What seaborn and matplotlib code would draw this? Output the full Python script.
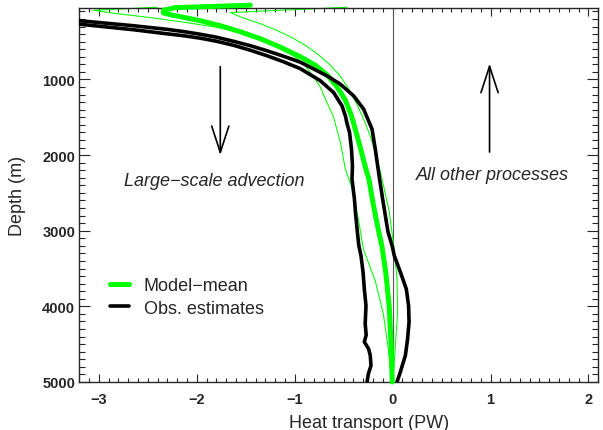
import matplotlib
matplotlib.use('Agg')
import matplotlib.pyplot as plt
from matplotlib.ticker import MultipleLocator
import seaborn as sns
import pandas as pd

# Heat transport (PW) against depth (m)
model_mean_x = [-1.453, -2.22, -2.34, -2.342, -2.270, -2.168, -1.964, -1.760, -1.556, -1.351,
                -1.147, -0.943, -0.790, -0.667, -0.565, -0.483, -0.422, -0.381, -0.33, -0.28,
                -0.24, -0.205, -0.16, -0.11, -0.07, -0.035, -0.017, -0.004]
model_mean_depth = [18, 50, 85, 118, 144, 170, 223, 289, 369, 461,
                    573, 699, 811, 943, 1102, 1273, 1472, 1657, 1900, 2150,
                    2330, 2600, 2900, 3200, 3550, 4000, 4450, 5000]

model_lo_x = [-2.4, -3.054, -2.853, -2.506, -2.168, -1.831, -1.556, -1.351, -1.147, -0.994,
              -0.892, -0.810, -0.738, -0.687, -0.606, -0.534, -0.483, -0.411, -0.350, -0.299,
              -0.177, -0.095, -0.044, -0.010]
model_lo_depth = [45, 85, 124, 177, 236, 303, 375, 468, 587, 705,
                  824, 956, 1102, 1260, 1485, 1828, 2185, 2449, 2845, 3241,
                  3664, 4100, 4562, 4999]

model_hi_x = [-0.463, -1.655, -1.594, -1.503, -1.351, -1.198, -1.045, -0.892, -0.759, -0.636,
              -0.534, -0.453, -0.381, -0.309, -0.228, -0.156, -0.085, -0.034, 0.012, 0.045,
              0.051, 0.028, 0.004]
model_hi_depth = [45, 115, 151, 197, 263, 342, 435, 547, 672, 811,
                  956, 1115, 1287, 1485, 1749, 2053, 2449, 2753, 3202, 3638,
                  4074, 4524, 4999]

obs_a_x = [-3.60, -3.20, -2.649, -2.312, -2.138, -1.965, -1.801, -1.628, -1.454, -1.284,
           -1.116, -0.943, -0.670, -0.534, -0.398, -0.296, -0.21, -0.177, -0.153, -0.133,
           -0.102, -0.047, -0.005, 0.017, 0.079, 0.140, 0.163, 0.168, 0.153, 0.130,
           0.079, 0.045]
obs_a_depth = [164, 223, 289, 336, 366, 402, 441, 494, 553, 620,
               692, 771, 952, 1062, 1217, 1392, 1657, 1922, 2141, 2317,
               2581, 3017, 3198, 3330, 3546, 3771, 3991, 4206, 4431, 4651,
               4867, 5000]

obs_b_x = [-3.60, -3.20, -2.649, -2.312, -2.138, -1.965, -1.801, -1.628, -1.454, -1.284,
           -1.116, -0.943, -0.739, -0.603, -0.517, -0.483, -0.466, -0.44, -0.42, -0.41,
           -0.415, -0.39, -0.38, -0.36, -0.345, -0.323, -0.302, -0.289, -0.272, -0.28,
           -0.27, -0.289, -0.245, -0.228, -0.221, -0.248, -0.261]
obs_b_depth = [210, 269, 342, 395, 421, 454, 494, 547, 613, 686,
               765, 857, 1016, 1172, 1349, 1480, 1580, 1700, 1920, 2140,
               2317, 2581, 2753, 3017, 3198, 3330, 3546, 3771, 3991, 4231,
               4380, 4470, 4563, 4651, 4783, 4893, 4999]

sns.set_style('ticks')
plt.rcParams['font.family'] = ['Liberation Sans', 'DejaVu Sans']

fig = plt.figure(figsize=(6.03, 4.31), dpi=100)
ax = fig.add_axes([0.1315, 0.1114, 0.8606, 0.8686])

ax.axvline(0, color='#555555', lw=0.8, zorder=1)

green = '#00ff00'
for xs, ds in [(model_lo_x, model_lo_depth), (model_hi_x, model_hi_depth)]:
    df = pd.DataFrame({'x': xs, 'depth': ds})
    sns.lineplot(data=df, x='x', y='depth', sort=False, estimator=None, color=green,
                 lw=0.75, ax=ax, legend=False, clip_on=False, zorder=2)

df = pd.DataFrame({'x': model_mean_x, 'depth': model_mean_depth})
sns.lineplot(data=df, x='x', y='depth', sort=False, estimator=None, color=green,
             lw=3.6, ax=ax, legend=False, clip_on=False, zorder=3, label='Model\u2212mean')

for i, (xs, ds) in enumerate([(obs_a_x, obs_a_depth), (obs_b_x, obs_b_depth)]):
    df = pd.DataFrame({'x': xs, 'depth': ds})
    sns.lineplot(data=df, x='x', y='depth', sort=False, estimator=None, color='black',
                 lw=2.6, ax=ax, legend=False, zorder=4,
                 label='Obs. estimates' if i == 0 else None)

ax.set_xlim(-3.2, 2.1)
ax.set_ylim(5000, 50)
ax.set_xticks([-3, -2, -1, 0, 1, 2])
ax.set_yticks([1000, 2000, 3000, 4000, 5000])
ax.xaxis.set_minor_locator(MultipleLocator(0.1))
ax.yaxis.set_minor_locator(MultipleLocator(100))
ax.tick_params(which='both', direction='in', top=True, right=True, width=0.8)
ax.tick_params(axis='x', which='major', length=6, pad=7)
ax.tick_params(axis='x', which='minor', length=3)
ax.tick_params(axis='y', which='major', length=8, pad=3)
ax.tick_params(axis='y', which='minor', length=4.5)
for lab in ax.get_xticklabels() + ax.get_yticklabels():
    lab.set_fontweight('bold')
    lab.set_fontsize(10.5)
for sp in ax.spines.values():
    sp.set_linewidth(1.0)

ax.set_xlabel('Heat transport (PW)', fontsize=13)
ax.set_ylabel('Depth (m)', fontsize=13)
ax.xaxis.set_label_coords(0.559, -0.085)
ax.yaxis.set_label_coords(-0.102, 0.5)

# process arrows and labels
ax.annotate('', xy=(-1.76, 2000), xytext=(-1.76, 830),
            arrowprops=dict(arrowstyle='->,head_length=1.9,head_width=0.62', lw=1.2,
                            color='black', mutation_scale=10, shrinkA=0, shrinkB=0))
ax.annotate('', xy=(0.99, 790), xytext=(0.99, 1960),
            arrowprops=dict(arrowstyle='->,head_length=1.9,head_width=0.62', lw=1.2,
                            color='black', mutation_scale=10, shrinkA=0, shrinkB=0))
ax.text(-1.82, 2330, 'Large\u2212scale advection', style='italic', fontsize=13,
        ha='center', va='center')
ax.text(1.02, 2250, 'All other processes', style='italic', fontsize=13,
        ha='center', va='center')

handles, labels = ax.get_legend_handles_labels()
ax.legend(handles, labels, loc='upper left', bbox_to_anchor=(0.1824, 0.355),
          bbox_transform=fig.transFigure, frameon=False, fontsize=13,
          handlelength=1.06, handletextpad=0.8, labelspacing=0.32,
          borderpad=0, borderaxespad=0)

plt.savefig('out.png', dpi=100)
